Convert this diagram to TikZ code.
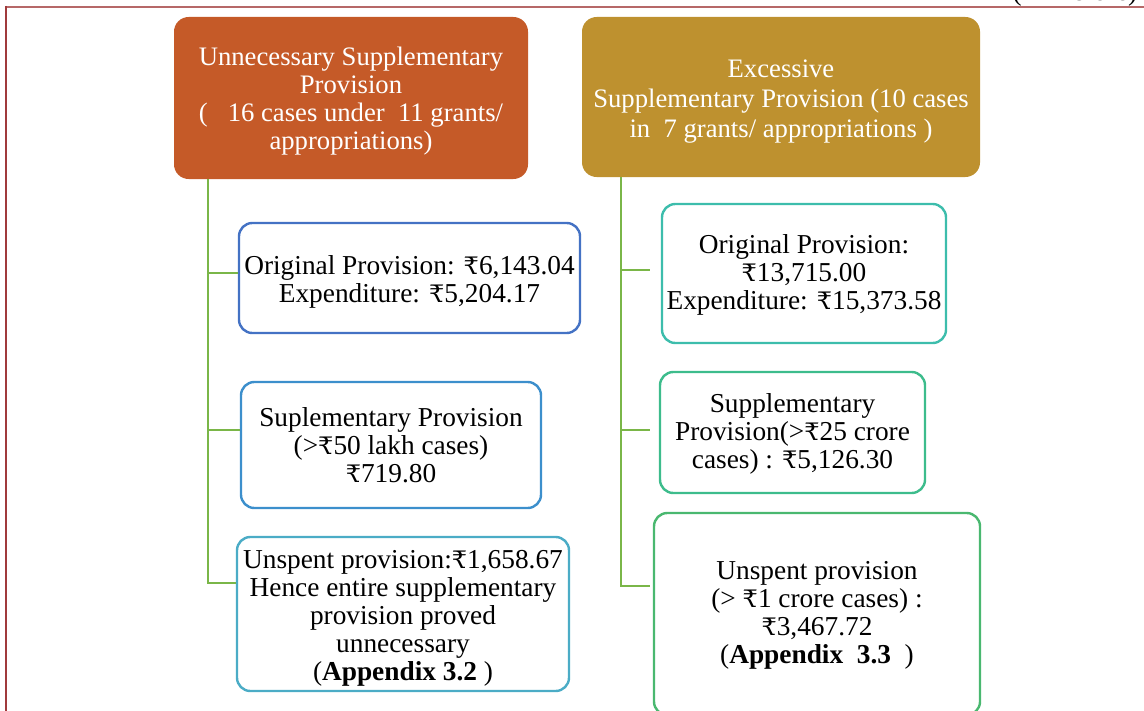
\documentclass[tikz,border=0pt]{standalone}
\usepackage{fontspec}
\setmainfont{Liberation Serif}
\newfontfamily\rupeefont[Scale=0.88]{DejaVu Serif}
\newcommand{\rs}{{\rupeefont ₹}}
\newcommand{\sink}[1]{\rule{0pt}{#1}}
\begin{document}
\begin{tikzpicture}[x=0.75pt, y=-0.75pt, box/.style={draw, rounded corners=10pt, line width=1.8pt, fill=white, align=center, inner sep=0pt, text=black, font=\fontsize{20.5}{21}\selectfont}, head/.style={rounded corners=11pt, align=center, inner sep=0pt, text=white, font=\fontsize{20}{21}\selectfont}, tree/.style={line width=1.5pt, draw=upGreen}, rim/.style={line width=2pt}]
\definecolor{upOrange}{RGB}{197,90,40}
\definecolor{upGold}{RGB}{190,145,47}
\definecolor{upGreen}{RGB}{122,182,72}
\definecolor{upBlue}{RGB}{68,114,196}
\definecolor{upSky}{RGB}{60,143,204}
\definecolor{upTeal}{RGB}{75,172,198}
\definecolor{upMint}{RGB}{61,189,172}
\definecolor{upJade}{RGB}{61,188,140}
\definecolor{upLeaf}{RGB}{74,184,112}
\definecolor{upRimTop}{RGB}{182,104,104}
\definecolor{upRimSide}{RGB}{160,58,60}
\useasboundingbox (0,0) rectangle (1144,710);
\draw[rim, upRimTop] (5,7) -- (1150,7);
\draw[rim, upRimSide] (6,6) -- (6,720);
\node[anchor=base east, font=\fontsize{20.5}{21}\selectfont] (unit) at (1142,1) {(\rs{} in crore)};
\node[head, fill=upOrange, minimum width=265.5pt, minimum height=121.5pt] (h1) at (351,98) {\sink{18pt}Unnecessary Supplementary\\ Provision\\ (\ \ \ 16 cases under\ \ 11 grants/\\ appropriations)};
\node[head, fill=upGold, minimum width=298.5pt, minimum height=120pt, font=\fontsize{20}{22.5}\selectfont] (h2) at (781,97) {\sink{20pt}Excessive\\ Supplementary Provision (10 cases\\ in\ \ 7 grants/ appropriations )};
\node[box, draw=upBlue, minimum width=255.75pt, minimum height=82.5pt] (b1) at (409.5,278) {\sink{20pt}Original Provision: \rs6,143.04\\ Expenditure: \rs5,204.17};
\node[box, draw=upSky, minimum width=225pt, minimum height=94.5pt] (b2) at (391,445) {Suplementary Provision\\ (>\rs50 lakh cases)\\ \rs719.80};
\node[box, draw=upTeal, minimum width=249pt, minimum height=115.5pt] (b3) at (403,614) {\sink{20pt}Unspent provision:\rs1,658.67\\ Hence entire supplementary\\ provision proved\\ unnecessary\\ (\textbf{Appendix 3.2} )};
\node[box, draw=upMint, minimum width=213pt, minimum height=104.25pt] (c1) at (804,273.5) {\sink{17pt}Original Provision:\\ \rs13,715.00\\ Expenditure: \rs15,373.58};
\node[box, draw=upJade, minimum width=198.75pt, minimum height=90.75pt] (c2) at (792.5,432.5) {\sink{17pt}Supplementary\\ Provision(>\rs25 crore\\ cases) : \rs5,126.30};
\node[box, draw=upLeaf, minimum width=244.5pt, minimum height=151.5pt] (c3) at (817,614) {\sink{16pt}Unspent provision\\ (> \rs1 crore cases) :\\ \rs3,467.72\\ (\textbf{Appendix\ \ 3.3}\ \ )};
\coordinate (sp1) at (208,0);
\coordinate (sp2) at (621,0);
\coordinate (t1) at ([yshift=3.75pt]b1.west);
\coordinate (t2) at ([yshift=11.25pt]b2.west);
\coordinate (t3) at ([yshift=23.25pt]b3.west);
\coordinate (u1) at ([yshift=2.6pt]c1.west);
\coordinate (u2) at ([yshift=2pt]c2.west);
\coordinate (u3) at ([yshift=21pt]c3.west);
\draw[tree] (h1.south -| sp1) |- (t3);
\draw[tree] (t1 -| sp1) -- (t1);
\draw[tree] (t2 -| sp1) -- (t2);
\draw[tree, shorten >=2.25pt] (h2.south -| sp2) |- (u3);
\draw[tree, shorten >=8.25pt] (u1 -| sp2) -- (u1);
\draw[tree, shorten >=6.75pt] (u2 -| sp2) -- (u2);
\end{tikzpicture}
\end{document}
